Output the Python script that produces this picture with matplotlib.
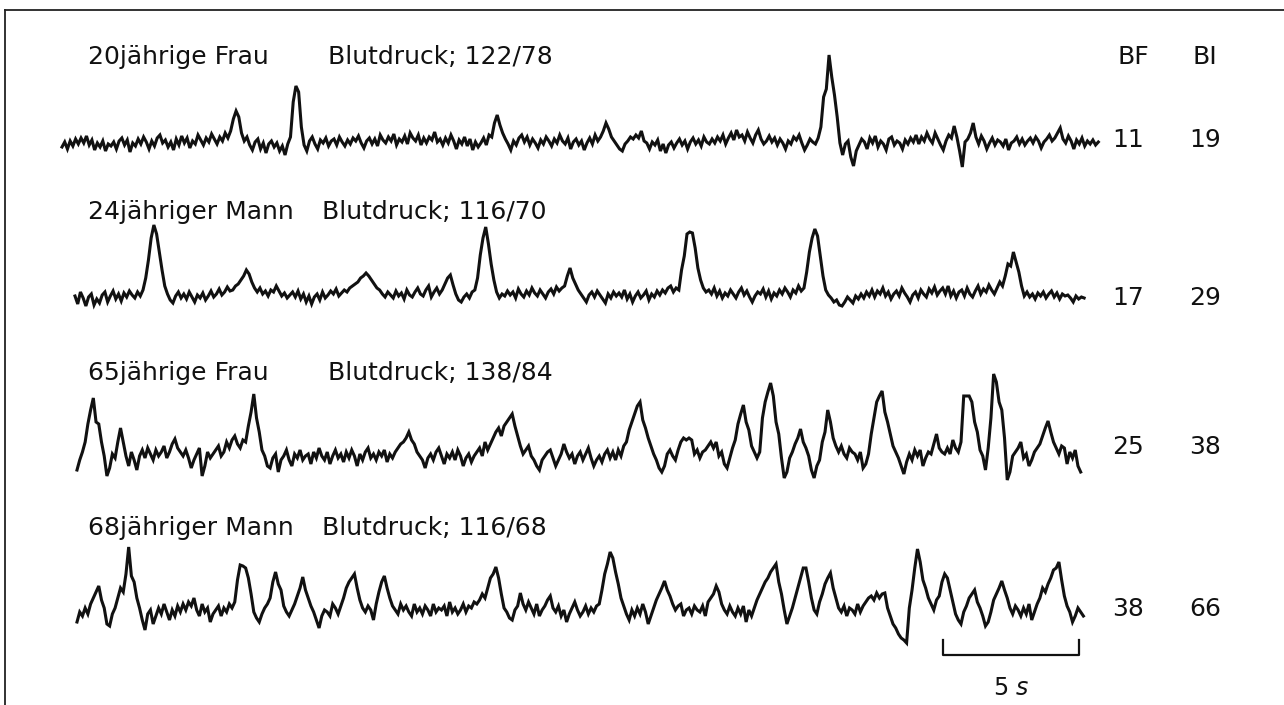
import numpy as np
import matplotlib
matplotlib.use('Agg')
import matplotlib.pyplot as plt
from matplotlib.lines import Line2D

dt = 0.1

# trace amplitudes (relative units, baseline ~ 0)
frau20 = [0, 5, -2, 6, 1, 8, 3, 9, 4, 11, 2, 7, -3, 4, 0, 6, -4, 3, 1, 5,
          -2, 6, 9, 2, 7, -5, 4, 1, 8, 3, 10, 5, -2, 6, 1, 9, 12, 4, 7, 0,
          5, -3, 8, 2, 11, 4, 9, -1, 6, 3, 12, 7, 2, 9, 5, 13, 8, 3, 10, 6,
          14, 9, 16, 28, 36, 30, 14, 6, 10, 2, -3, 5, 8, -2, 4, -6, 3, 6, 0, 4,
          -4, 1, -8, 3, 10, 45, 61, 55, 20, 2, -4, 6, 10, 3, -2, 7, 4, 9, 1, 6,
          8, 2, 10, 5, 1, 7, 3, 9, 6, 11, 4, -1, 6, 9, 3, 8, 1, 12, 7, 4,
          10, 6, 13, 2, 8, 5, 11, 3, 14, 9, 6, 12, 2, 9, 4, 10, 7, 15, 5, 8,
          2, 9, 4, 12, 6, -2, 7, 3, 10, 1, 8, -3, 5, 0, 4, 9, 2, 12, 10, 24,
          32, 22, 14, 8, 3, -3, 6, 2, 9, 12, 5, 10, 2, 8, 4, -1, 7, 3, 10, 6,
          1, 8, 4, 12, 6, 3, 9, -2, 5, 8, 2, 6, -3, 4, 9, 3, 12, 6, 10, 16,
          24, 18, 10, 6, 2, -2, -4, 3, 6, 10, 8, 12, 9, 16, 6, 4, -2, 5, 2, 7,
          -4, 3, -6, 2, 5, -1, 4, 8, 2, 6, -2, 5, 9, 3, 7, 1, 10, 5, 3, 8,
          4, 10, 6, 12, 3, 9, 14, 7, 17, 10, 12, 6, 15, 9, 4, 12, 17, 8, 3, 6,
          11, 5, 9, 2, 8, 4, -2, 6, 3, 10, 7, 12, 4, -3, 2, 8, 5, 3, 9, 20,
          50, 58, 92, 70, 52, 30, 4, -8, 3, 6, -10, -19, -4, 2, 8, 5, -2, 9, 4, 11,
          0, 6, 3, -3, 8, 10, 2, 6, 4, -2, 7, 3, 9, 5, 12, 3, 10, 6, 14, 8,
          4, 14, 8, 2, -3, 6, 12, 9, 21, 10, -4, -20, 5, 8, 14, 24, 10, 3, 11, 6,
          -2, 4, 9, 2, 7, 5, 1, 8, -3, 4, 6, 10, 3, 8, 2, 6, 9, 4, 10, 6,
          -1, 5, 8, 12, 6, 9, 14, 19, 8, 4, 11, 6, -2, 7, 3, 9, 1, 6, 3, 7,
          2, 5]

mann24 = [4, -4, 8, 2, -6, 3, 6, -5, 1, -3, 5, 8, -2, 4, 9, 1, 6, -1, 7, 3,
          9, 5, 2, 8, 4, 10, 22, 40, 62, 75, 66, 48, 30, 14, 6, 0, -3, 4, 8, 2,
          6, 1, 8, 3, -2, 5, 2, 7, 0, 4, 9, 3, 6, 11, 5, 8, 13, 9, 10, 14,
          16, 20, 24, 30, 26, 18, 12, 8, 12, 6, 9, 4, 10, 8, 14, 9, 4, 7, 2, 5,
          8, 3, 9, 1, 6, -2, 4, -4, 3, 6, 0, 8, 2, 5, 9, 6, 11, 4, 7, 10,
          8, 12, 14, 16, 18, 22, 24, 27, 24, 20, 16, 12, 10, 6, 3, 8, 5, 2, 9, 4,
          7, 1, 10, 5, 3, 8, 12, 6, 4, 10, 14, 3, 8, 12, 6, 10, 16, 22, 25, 15,
          6, 0, -2, 3, 6, 2, 8, 10, 22, 45, 62, 73, 56, 36, 20, 8, 2, 6, 4, 9,
          5, 8, 2, 11, 6, 3, 9, 5, 12, 7, 4, 10, 6, 2, 8, 11, 6, 13, 9, 12,
          14, 24, 32, 22, 16, 10, 6, 2, -2, 5, 8, 3, 9, 5, 1, -3, 6, 2, 8, 4,
          7, 3, 10, 1, 6, -2, 4, 8, 2, 5, 9, 0, 6, 3, 9, 5, 10, 7, 12, 14,
          8, 12, 10, 30, 44, 66, 68, 67, 52, 32, 20, 12, 8, 10, 6, 12, 4, 9, 2, 7,
          4, 10, 6, 2, 8, 12, 5, 9, 3, -2, 4, 8, 6, 11, 3, 9, 1, 7, 4, 10,
          6, 12, 8, 3, 10, 7, 14, 9, 12, 28, 48, 62, 71, 64, 44, 24, 10, 5, 2, -2,
          0, -5, -6, -2, 3, 0, -3, 4, 1, 6, 2, 8, 4, 10, 3, 9, 6, 12, 4, 8,
          1, 6, 9, 4, 12, 7, 3, -2, 5, 8, 2, 10, 6, 3, 11, 7, 13, 5, 9, 12,
          6, 14, 4, 9, 2, 8, 10, 4, 12, 6, 3, 9, 14, 6, 11, 8, 15, 10, 6, 12,
          18, 14, 24, 36, 34, 48, 38, 28, 14, 4, 8, 3, 6, 1, 7, 4, 8, 2, 6, 9,
          3, 7, 1, 6, 4, 5, 2, -2, 4, 1, 3, 2]

frau65 = [-8, 2, 10, 20, 38, 52, 64, 40, 38, 20, 6, -14, -6, 8, 4, 20, 34, 20, 6, -4,
          10, 2, -8, 6, 12, 4, 14, 8, 2, 12, 6, 10, 16, 4, 10, 18, 23, 14, 10, 6,
          12, 4, -6, 2, 8, 14, -14, -4, 10, 4, 8, 12, 16, 6, 10, 20, 14, 22, 26, 18,
          14, 22, 20, 36, 50, 68, 44, 30, 12, 6, -4, -6, 4, 8, -10, 2, 6, 12, 2, -4,
          8, 4, 12, 2, 6, 8, -2, 10, 4, 14, 6, 2, 10, -2, 6, 12, 4, 8, 0, 10,
          4, 12, 6, -4, 8, 2, 10, 14, 4, 8, 2, 10, 6, 12, 0, 8, 4, 10, 14, 18,
          20, 24, 30, 22, 18, 10, 6, 2, -6, 4, 8, 2, 10, 14, 6, -2, 8, 4, 10, 2,
          12, 6, -4, 4, 8, 0, 6, 10, 14, 6, 20, 12, 18, 24, 30, 34, 26, 36, 40, 44,
          48, 36, 26, 16, 8, 12, 16, 6, 2, -4, -8, 2, 6, 10, 12, 4, -4, 2, 8, 18,
          10, 4, 8, -2, 6, 10, 2, 8, 14, 4, -4, 2, 6, 0, 8, 12, 4, 10, 2, 12,
          6, 16, 20, 32, 40, 48, 56, 60, 42, 34, 24, 16, 8, 2, -6, -10, -4, 8, 12, 6,
          2, 12, 20, 24, 22, 24, 22, 8, 12, 4, 10, 12, 16, 20, 14, 20, 6, 10, -2, -6,
          4, 14, 22, 38, 48, 57, 40, 32, 16, 10, 4, 10, 44, 60, 70, 79, 66, 40, 28, 4,
          -16, -10, 4, 10, 18, 24, 33, 20, 14, 6, -8, -16, -4, 2, 20, 30, 52, 40, 24, 16,
          10, 16, 8, 4, 14, 10, 8, 2, 10, -6, -2, 8, 28, 44, 60, 66, 71, 50, 40, 28,
          16, 10, 4, -4, -12, 0, 8, 2, 12, 6, 12, -4, 4, 10, 8, 18, 28, 14, 10, 8,
          14, 8, 22, 14, 10, 20, 66, 66, 66, 60, 40, 30, 12, 6, -8, 14, 44, 88, 80, 60,
          52, 24, -18, -10, 6, 10, 14, 20, 4, 8, -4, 2, 10, 14, 18, 26, 34, 41, 30, 20,
          14, 8, 16, 14, -2, 10, 4, 12, -4, -10]

mann68 = [-4, 6, 2, 10, 4, 14, 20, 26, 32, 18, 10, -6, -8, 4, 10, 20, 30, 26, 44, 71,
          42, 36, 20, 10, -2, -12, 4, 8, -6, 2, 10, 4, 14, 6, -2, 8, 2, 12, 6, 14,
          8, 16, 12, 20, 8, 2, 14, 6, 10, -4, 4, 8, 12, 2, 10, 6, 14, 10, 16, 38,
          53, 52, 50, 40, 24, 6, 0, -4, 4, 10, 14, 20, 36, 46, 34, 28, 12, 6, 2, 8,
          14, 22, 30, 41, 28, 20, 12, 6, -2, -10, 2, 8, 6, 2, 14, 10, 4, 12, 20, 30,
          36, 40, 44, 30, 18, 10, 6, 12, 8, -2, 14, 26, 36, 42, 30, 20, 12, 8, 4, 14,
          8, 12, 6, 2, 14, 6, 10, 4, 12, 8, 2, 14, 6, 10, 8, 12, 2, 16, 6, 10,
          4, 8, 14, 6, 12, 10, 16, 14, 18, 24, 20, 30, 40, 44, 51, 40, 24, 10, 6, 0,
          -2, 8, 12, 25, 14, 8, 16, 10, 4, 14, 2, 8, 12, 18, 22, 10, 6, 12, 2, 8,
          -4, 4, 10, 16, 8, 2, 6, 12, 4, 10, 6, 12, 14, 28, 44, 54, 66, 60, 46, 34,
          20, 12, 4, -2, 8, 2, 10, 4, 14, 6, -6, 2, 10, 18, 24, 30, 37, 28, 22, 14,
          8, 12, 14, 2, 8, 10, 4, 12, 8, 6, 12, 2, 16, 20, 24, 32, 26, 14, 8, 4,
          12, 6, 2, 10, 4, 12, -4, 8, 2, 10, 18, 24, 30, 36, 40, 46, 50, 54, 36, 24,
          8, -6, 2, 10, 20, 30, 40, 50, 50, 36, 20, 8, 4, 16, 24, 34, 40, 45, 30, 20,
          10, 6, 12, 2, 10, 8, 4, 14, 6, 12, 16, 20, 22, 18, 25, 20, 24, 25, 10, 2,
          -6, -10, -16, -20, -22, -25, 10, 28, 50, 69, 56, 38, 30, 20, 14, 8, 18, 22, 36, 44,
          40, 28, 16, 4, -2, -6, 6, 12, 20, 24, 28, 16, 10, 2, -8, -4, 6, 18, 24, 30,
          37, 28, 20, 10, 4, 12, 8, 2, 10, 4, 14, -2, 6, 14, 20, 30, 26, 34, 40, 48,
          50, 56, 38, 22, 12, 6, -4, 2, 10, 6, 2]

traces = [frau20, mann24, frau65, mann68]
persons = ['20jährige Frau', '24jähriger Mann', '65jährige Frau', '68jähriger Mann']
pressure = ['Blutdruck; 122/78', 'Blutdruck; 116/70', 'Blutdruck; 138/84', 'Blutdruck; 116/68']
bf = ['11', '17', '25', '38']
bi = ['19', '29', '38', '66']

# layout (pixels of the 1284x705 picture)
W, H = 1284, 705
px_per_s = 27.2
x0 = 75
starts = [62, 75, 77, 77]
baselines = [147, 300, 462, 618]
label_y = [57, 212, 373, 528]
press_x = [328, 322, 328, 322]
num_y = [140, 298, 447, 609]
ink = '#111111'

fig = plt.figure(figsize=(W / 100, H / 100), dpi=100)
ax = fig.add_axes([0, 0, 1, 1])
ax.set_xlim(-x0 / px_per_s, (W - x0) / px_per_s)
ax.set_ylim(0, H)
ax.axis('off')

for i, tr in enumerate(traces):
    vals = np.array(tr, dtype=float)
    t = (starts[i] - x0) / px_per_s + dt * np.arange(len(vals))
    ax.plot(t, (H - baselines[i]) + vals, color=ink, lw=2.2,
            solid_joinstyle='miter')

# 5 s scale bar
bar_start = (943 - x0) / px_per_s
ax.plot([bar_start, bar_start, bar_start + 5, bar_start + 5],
        [H - 640, H - 655, H - 655, H - 640], color=ink, lw=1.6)
fig.text((943 + 1079) / 2 / W, 1 - 688 / H, '5 $s$', ha='center', va='center',
         fontsize=17, color=ink)

fs = 18
for i in range(4):
    fig.text(88 / W, 1 - label_y[i] / H, persons[i], ha='left', va='center',
             fontsize=fs, color=ink)
    fig.text(press_x[i] / W, 1 - label_y[i] / H, pressure[i], ha='left',
             va='center', fontsize=fs, color=ink)
    fig.text(1128 / W, 1 - num_y[i] / H, bf[i], ha='center', va='center',
             fontsize=fs, color=ink)
    fig.text(1205 / W, 1 - num_y[i] / H, bi[i], ha='center', va='center',
             fontsize=fs, color=ink)

fig.text(1133 / W, 1 - 57 / H, 'BF', ha='center', va='center', fontsize=fs, color=ink)
fig.text(1205 / W, 1 - 57 / H, 'BI', ha='center', va='center', fontsize=fs, color=ink)

# frame lines (left and top only)
fig.add_artist(Line2D([5 / W, 5 / W], [0, 1 - 10 / H], color='#222222', lw=1.3))
fig.add_artist(Line2D([5 / W, 1], [1 - 10 / H, 1 - 10 / H], color='#222222', lw=1.3))

fig.savefig('out.png', dpi=100, facecolor='white')
